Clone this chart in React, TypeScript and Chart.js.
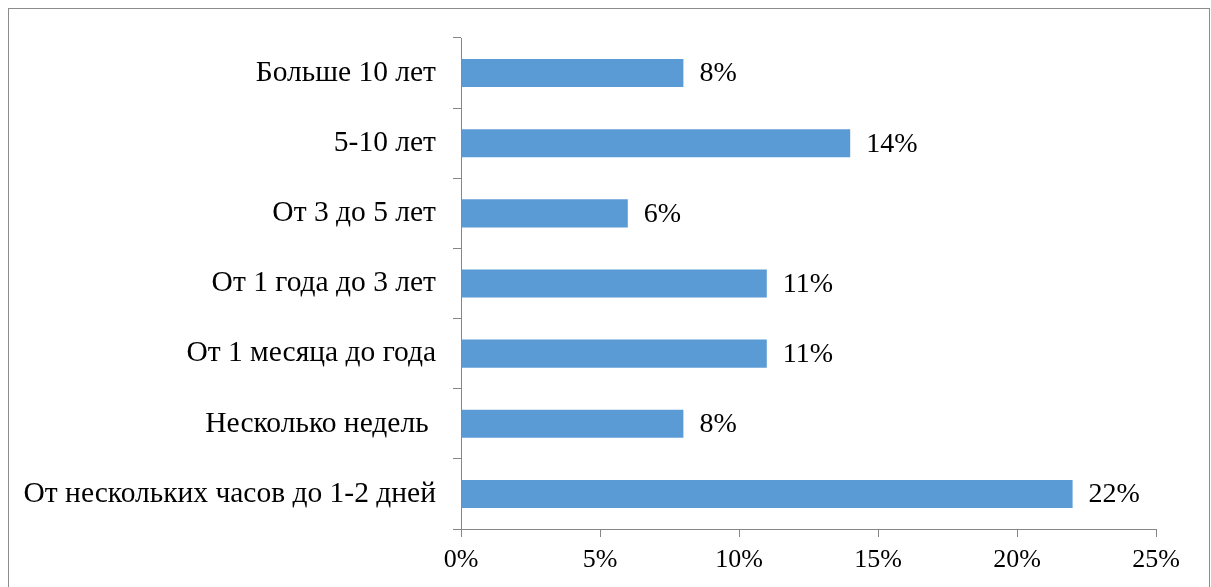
import React, { useEffect, useRef } from "react";
import { Chart, registerables } from "chart.js";

Chart.register(...registerables);

const categories = [
  "Больше 10 лет",
  "5-10 лет",
  "От 3 до 5 лет",
  "От 1 года до 3 лет",
  "От 1 месяца до года",
  "Несколько недель ",
  "От нескольких часов до 1-2 дней",
];
const values = [8, 14, 6, 11, 11, 8, 22];
const xMin = 0;
const xMax = 25;
const xStep = 5;

const W = 1200;
const H = 585;
const FONT = "'Liberation Serif', 'Times New Roman', serif";
const CAT_FONT_SIZE = 29.5;
const TICK_FONT_SIZE = 26;
const VALUE_FONT_SIZE = 28;
const AXIS_COLOR = "#868686";
const BAR_COLOR = "#5B9BD5";

const labelPlugin = {
  id: "barValueLabels",
  afterDatasetsDraw(chart: any) {
    const ctx = chart.ctx;
    const meta = chart.getDatasetMeta(0);
    ctx.save();
    ctx.font = `${VALUE_FONT_SIZE}px ${FONT}`;
    ctx.fillStyle = "#000";
    ctx.textAlign = "left";
    ctx.textBaseline = "middle";
    meta.data.forEach((bar: any, i: number) => {
      ctx.fillText(values[i] + "%", bar.x + 16, bar.y + 1);
    });
    ctx.restore();
  },
};

export default function App() {
  const ref = useRef<HTMLCanvasElement | null>(null);

  useEffect(() => {
    document.documentElement.style.overflow = "hidden";
    const canvas = ref.current;
    if (!canvas) return;
    const chart = new Chart(canvas, {
      type: "bar",
      data: {
        labels: categories,
        datasets: [
          {
            data: values,
            backgroundColor: BAR_COLOR,
            borderWidth: 0,
            barPercentage: 0.4,
            categoryPercentage: 1,
          },
        ],
      },
      options: {
        indexAxis: "y",
        responsive: false,
        animation: false,
        devicePixelRatio: 1,
        layout: { padding: { top: 29, right: 53, bottom: 0, left: 0 } },
        plugins: {
          legend: { display: false },
          tooltip: { enabled: false },
        },
        scales: {
          x: {
            min: xMin,
            max: xMax,
            ticks: {
              stepSize: xStep,
              color: "#000",
              font: { family: FONT, size: TICK_FONT_SIZE },
              padding: 8,
              maxRotation: 0,
              callback: (v: any) => v + "%",
            },
            grid: {
              drawOnChartArea: false,
              drawTicks: true,
              tickLength: 8,
              color: AXIS_COLOR,
            },
            border: { display: true, color: AXIS_COLOR, width: 1 },
            afterFit: (scale: any) => {
              scale.height = H - 520;
            },
          },
          y: {
            ticks: {
              color: "#000",
              font: { family: FONT, size: CAT_FONT_SIZE },
              padding: 17,
              autoSkip: false,
            },
            grid: {
              offset: true,
              drawOnChartArea: false,
              drawTicks: true,
              tickLength: 8,
              color: AXIS_COLOR,
            },
            border: { display: true, color: AXIS_COLOR, width: 1 },
            afterFit: (scale: any) => {
              scale.width = 452;
              scale.paddingTop = 0;
              scale.paddingBottom = 0;
            },
          },
        },
      },
      plugins: [labelPlugin],
    });
    return () => chart.destroy();
  }, []);

  return (
    <div
      style={{
        position: "fixed",
        left: 8,
        top: 8,
        width: W + 2,
        height: H + 2,
        border: "1px solid #8c8c8c",
        boxSizing: "border-box",
        background: "#fff",
      }}
    >
      <canvas ref={ref} width={W} height={H} style={{ display: "block" }} />
    </div>
  );
}
